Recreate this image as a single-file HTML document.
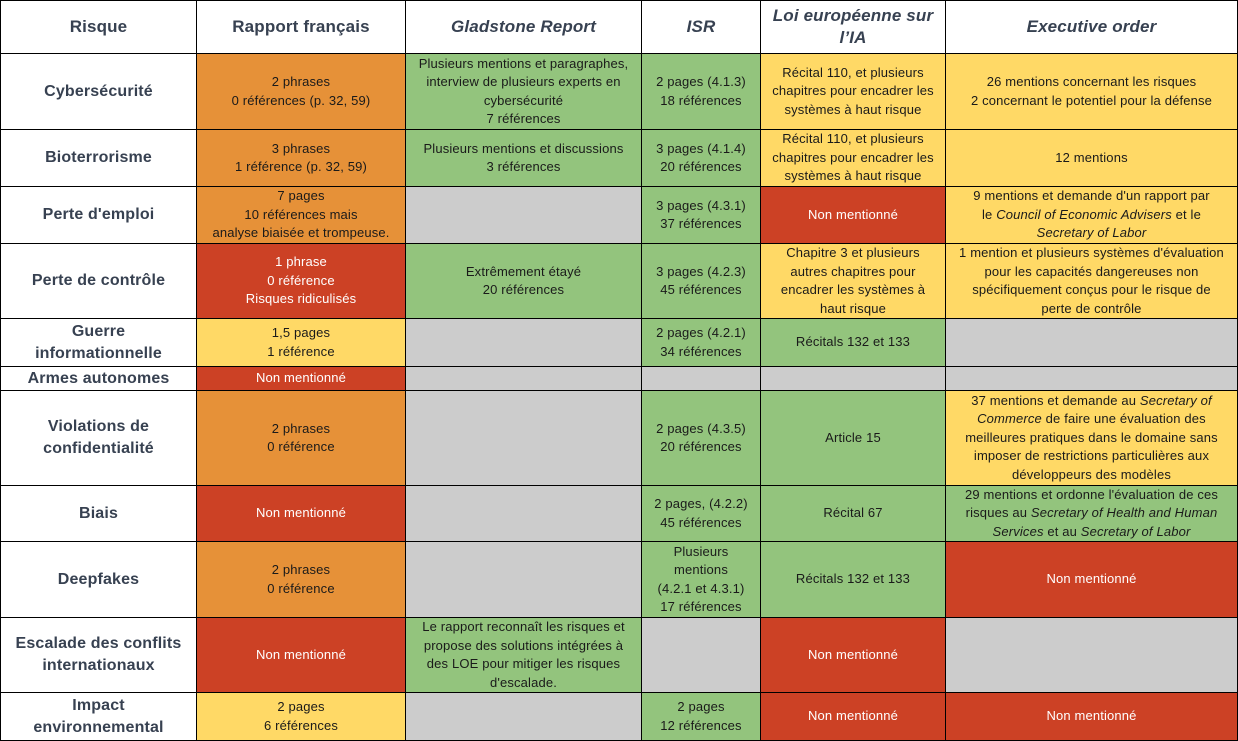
<!DOCTYPE html><html><head><meta charset="utf-8"><style>
body{margin:0;background:#fff}
.g{display:grid;width:1238px;height:741px;box-sizing:border-box;padding:1px;gap:1px;background:#000;
grid-template-columns:195px 208px 235px 118px 184px 291px;
grid-template-rows:52px 75px 56px 56px 74px 47px 23px 94px 55px 75px 74px 47px;
font-family:"Liberation Sans",sans-serif;}
.g>div{display:flex;align-items:center;justify-content:center;text-align:center;font-size:13px;line-height:18.5px;color:#1a1a1a;background:#fff;padding:0 5px;overflow:hidden;letter-spacing:0.15px}
.g>div>span{display:block}
.g>div.h{font-size:17px;font-weight:bold;color:#374151;line-height:22px}
.g>div.r{font-size:16px;font-weight:bold;color:#374151;line-height:22px;padding:0 14px}
.i{font-style:italic}
.g>div.o{background:#E69138}.g>div.gr{background:#93C47D}.g>div.y{background:#FFD966}.g>div.rd{background:#CC4125;color:#fff}.g>div.x{background:#CCCCCC}
</style></head><body><div class="g">
<div class="h"><span>Risque</span></div><div class="h"><span>Rapport français</span></div><div class="h i"><span>Gladstone Report</span></div><div class="h i"><span>ISR</span></div><div class="h i"><span>Loi européenne sur l’IA</span></div><div class="h i"><span>Executive order</span></div>

<div class="r"><span>Cybersécurité</span></div><div class="o"><span>2 phrases<br>0 références (p. 32, 59)</span></div><div class="gr"><span>Plusieurs mentions et paragraphes, interview de plusieurs experts en cybersécurité<br>7 références</span></div><div class="gr"><span>2 pages (4.1.3)<br>18 références</span></div><div class="y"><span>Récital 110, et plusieurs chapitres pour encadrer les systèmes à haut risque</span></div><div class="y"><span>26 mentions concernant les risques<br>2 concernant le potentiel pour la défense</span></div>

<div class="r"><span>Bioterrorisme</span></div><div class="o"><span>3 phrases<br>1 référence (p. 32, 59)</span></div><div class="gr"><span>Plusieurs mentions et discussions<br>3 références</span></div><div class="gr"><span>3 pages (4.1.4)<br>20 références</span></div><div class="y"><span>Récital 110, et plusieurs chapitres pour encadrer les systèmes à haut risque</span></div><div class="y"><span>12 mentions</span></div>

<div class="r"><span>Perte d'emploi</span></div><div class="o"><span>7 pages<br>10 références mais<br>analyse biaisée et trompeuse.</span></div><div class="x"></div><div class="gr"><span>3 pages (4.3.1)<br>37 références</span></div><div class="rd"><span>Non mentionné</span></div><div class="y"><span>9 mentions et demande d'un rapport par<br>le <i>Council of Economic Advisers</i> et le<br><i>Secretary of Labor</i></span></div>

<div class="r"><span>Perte de contrôle</span></div><div class="rd"><span>1 phrase<br>0 référence<br>Risques ridiculisés</span></div><div class="gr"><span>Extrêmement étayé<br>20 références</span></div><div class="gr"><span>3 pages (4.2.3)<br>45 références</span></div><div class="y"><span>Chapitre 3 et plusieurs<br>autres chapitres pour<br>encadrer les systèmes à<br>haut risque</span></div><div class="y"><span>1 mention et plusieurs systèmes d'évaluation<br>pour les capacités dangereuses non<br>spécifiquement conçus pour le risque de<br>perte de contrôle</span></div>

<div class="r"><span>Guerre informationnelle</span></div><div class="y"><span>1,5 pages<br>1 référence</span></div><div class="x"></div><div class="gr"><span>2 pages (4.2.1)<br>34 références</span></div><div class="gr"><span>Récitals 132 et 133</span></div><div class="x"></div>

<div class="r"><span>Armes autonomes</span></div><div class="rd"><span>Non mentionné</span></div><div class="x"></div><div class="x"></div><div class="x"></div><div class="x"></div>

<div class="r"><span>Violations de confidentialité</span></div><div class="o"><span>2 phrases<br>0 référence</span></div><div class="x"></div><div class="gr"><span>2 pages (4.3.5)<br>20 références</span></div><div class="gr"><span>Article 15</span></div><div class="y"><span>37 mentions et demande au <i>Secretary of Commerce</i> de faire une évaluation des meilleures pratiques dans le domaine sans imposer de restrictions particulières aux développeurs des modèles</span></div>

<div class="r"><span>Biais</span></div><div class="rd"><span>Non mentionné</span></div><div class="x"></div><div class="gr"><span>2 pages, (4.2.2)<br>45 références</span></div><div class="gr"><span>Récital 67</span></div><div class="gr"><span>29 mentions et ordonne l'évaluation de ces risques au <i>Secretary of Health and Human Services</i> et au <i>Secretary of Labor</i></span></div>

<div class="r"><span>Deepfakes</span></div><div class="o"><span>2 phrases<br>0 référence</span></div><div class="x"></div><div class="gr"><span>Plusieurs<br>mentions<br>(4.2.1 et 4.3.1)<br>17 références</span></div><div class="gr"><span>Récitals 132 et 133</span></div><div class="rd"><span>Non mentionné</span></div>

<div class="r"><span>Escalade des conflits internationaux</span></div><div class="rd"><span>Non mentionné</span></div><div class="gr"><span>Le rapport reconnaît les risques et propose des solutions intégrées à<br>des LOE pour mitiger les risques d'escalade.</span></div><div class="x"></div><div class="rd"><span>Non mentionné</span></div><div class="x"></div>

<div class="r"><span>Impact environnemental</span></div><div class="y"><span>2 pages<br>6 références</span></div><div class="x"></div><div class="gr"><span>2 pages<br>12 références</span></div><div class="rd"><span>Non mentionné</span></div><div class="rd"><span>Non mentionné</span></div>
</div></body></html>
